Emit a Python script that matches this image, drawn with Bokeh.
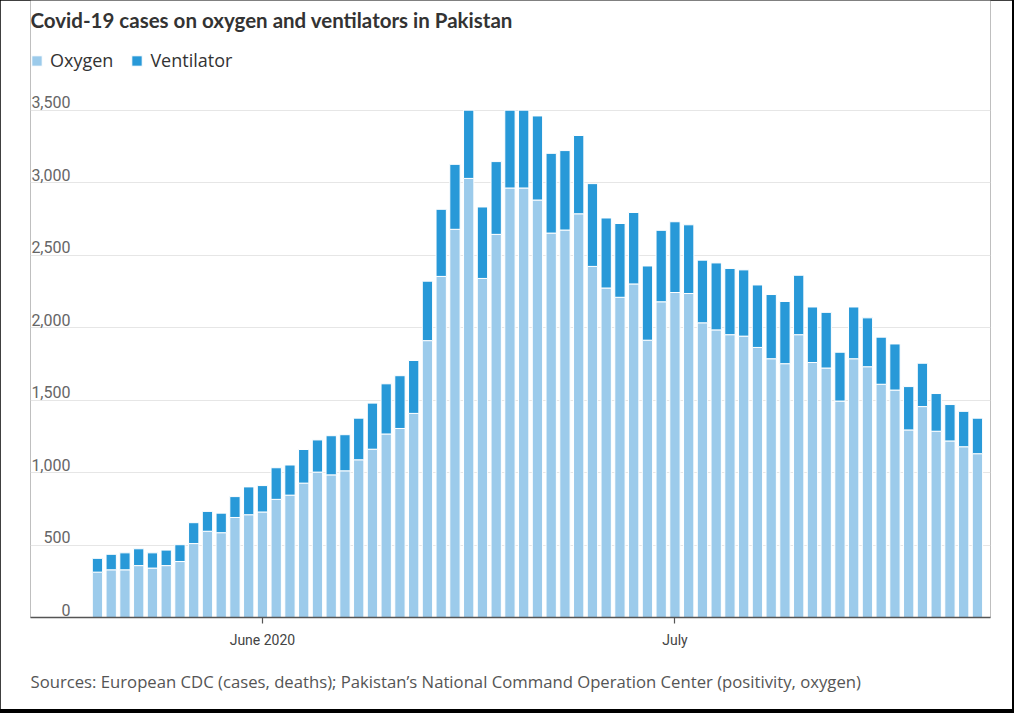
import pandas as pd
from bokeh.plotting import figure
from bokeh.models import (ColumnDataSource, Range1d, FixedTicker, Legend, LegendItem,
                          Title, Label, LabelSet, CustomJSTickFormatter)
from bokeh.core.properties import value
from bokeh.embed import file_html
from bokeh.resources import INLINE

# ---------------- data ----------------
first_day = "2020-05-20"
n_days = 65
dates = pd.date_range(first_day, periods=n_days)

oxygen = [313, 329, 329, 358, 341, 358, 386, 510, 595, 585,
          690, 709, 728, 815, 844, 927, 1003, 984, 1012, 1088,
          1161, 1266, 1304, 1408, 1910, 2353, 2678, 3029, 2339, 2643,
          2963, 2963, 2880, 2652, 2673, 2785, 2422, 2273, 2209, 2301,
          1913, 2178, 2242, 2235, 2033, 1984, 1951, 1941, 1863, 1785,
          1751, 1951, 1759, 1721, 1493, 1785, 1730, 1609, 1569, 1294,
          1455, 1285, 1218, 1178, 1130]
ventilator = [95, 107, 117, 116, 105, 107, 116, 144, 137, 135,
              144, 192, 182, 218, 208, 232, 222, 270, 249, 287,
              318, 346, 364, 365, 410, 463, 448, 471, 493, 502,
              537, 537, 580, 550, 548, 540, 571, 483, 509, 493,
              512, 493, 488, 474, 432, 462, 457, 457, 431, 443,
              429, 410, 383, 384, 337, 357, 337, 325, 318, 299,
              299, 260, 251, 244, 245]

series_names = ["Oxygen", "Ventilator"]
series_colors = ["#9ccbeb", "#2899d8"]

y_ticks = [0, 500, 1000, 1500, 2000, 2500, 3000, 3500]
y_tick_labels = ["0", "500", "1,000", "1,500", "2,000", "2,500", "3,000", "3,500"]
x_tick_dates = ["2020-06-01", "2020-07-01"]
x_tick_labels = ["June 2020", "July"]

title_text = "Covid-19 cases on oxygen and ventilators in Pakistan"
source_text = ("Sources: European CDC (cases, deaths); Pakistan\u2019s National Command "
               "Operation Center (positivity, oxygen)")

# ---------------- figure ----------------
DAY = 86400000
x_start = pd.Timestamp(first_day) - pd.Timedelta(hours=4.87 * 24)
x_end = pd.Timestamp(first_day) + pd.Timedelta(hours=64.95 * 24)
y_top = 3500 * 619 / 509   # room above the grid for title and legend

src = ColumnDataSource(dict(date=dates, oxygen=oxygen, ventilator=ventilator))

p = figure(width=1012, height=709, x_axis_type="datetime",
           x_range=Range1d(x_start, x_end), y_range=Range1d(0, y_top),
           output_backend="svg", toolbar_location=None, y_axis_location=None,
           title_location=None,
           min_border_left=30, min_border_right=22, min_border_top=0,
           min_border_bottom=90)
p.outline_line_color = None
p.background_fill_color = "white"
p.border_fill_color = "white"

renderers = p.vbar_stack(["oxygen", "ventilator"], x="date", width=0.75 * DAY,
                         fill_color=series_colors, line_color="white", line_width=1,
                         source=src)

# grid
p.xgrid.visible = False
p.ygrid.ticker = FixedTicker(ticks=y_ticks)
p.ygrid.grid_line_color = "#e6e6e6"
p.ygrid.grid_line_width = 1.2

# y labels inside the frame, above grid lines
ylab = ColumnDataSource(dict(x=[x_start] * len(y_ticks), y=y_ticks, t=y_tick_labels))
p.add_layout(LabelSet(x="x", y="y", text="t", source=ylab, x_offset=40, y_offset=2,
                      text_align="right", text_baseline="bottom",
                      text_font=value("Roboto"), text_font_size=value("16px"),
                      text_color=value("#666666")))

# x axis
tick_ms = [int(pd.Timestamp(d).value // 10**6) for d in x_tick_dates]
xa = p.xaxis[0]
xa.ticker = FixedTicker(ticks=tick_ms)
xa.formatter = CustomJSTickFormatter(args=dict(tvals=tick_ms, tlabels=x_tick_labels), code="""
    const i = tvals.indexOf(tick);
    return i >= 0 ? tlabels[i] : "";
""")
xa.axis_line_color = "#555555"
xa.axis_line_width = 1.5
xa.major_tick_line_color = "#555555"
xa.major_tick_line_width = 1.2
xa.major_tick_out = 6
xa.major_tick_in = 0
xa.minor_tick_line_color = None
xa.major_label_text_font = "Roboto"
xa.major_label_text_font_size = "14px"
xa.major_label_text_color = "#444444"
xa.major_label_standoff = 8

# title (inside the top band of the frame)
p.add_layout(Label(x=0, y=598, x_units="screen", y_units="screen", text=title_text,
                   text_font="Lato", text_font_size="20.5px", text_font_style="bold",
                   text_color="#333333", text_align="left", text_baseline="middle"))

legend = Legend(items=[LegendItem(label=series_names[i], renderers=[renderers[i]])
                       for i in range(2)],
                orientation="horizontal", location=(0, 545),
                margin=0, padding=0, spacing=17,
                glyph_width=13, glyph_height=13, label_standoff=7,
                label_text_font="Open Sans", label_text_font_size="18px",
                label_text_color="#333333",
                border_line_color=None, background_fill_alpha=0)
p.add_layout(legend, "center")

p.add_layout(Title(text=source_text, text_font="Open Sans", text_font_size="16.7px",
                   text_color="#555555", align="left", offset=0, standoff=34,
                   text_font_style="normal"), "below")

html = file_html(p, INLINE)
html = html.replace("</head>",
                    "<style>html,body{margin:0;background:#000000;}</style></head>", 1)
open("out.html", "w").write(html)
